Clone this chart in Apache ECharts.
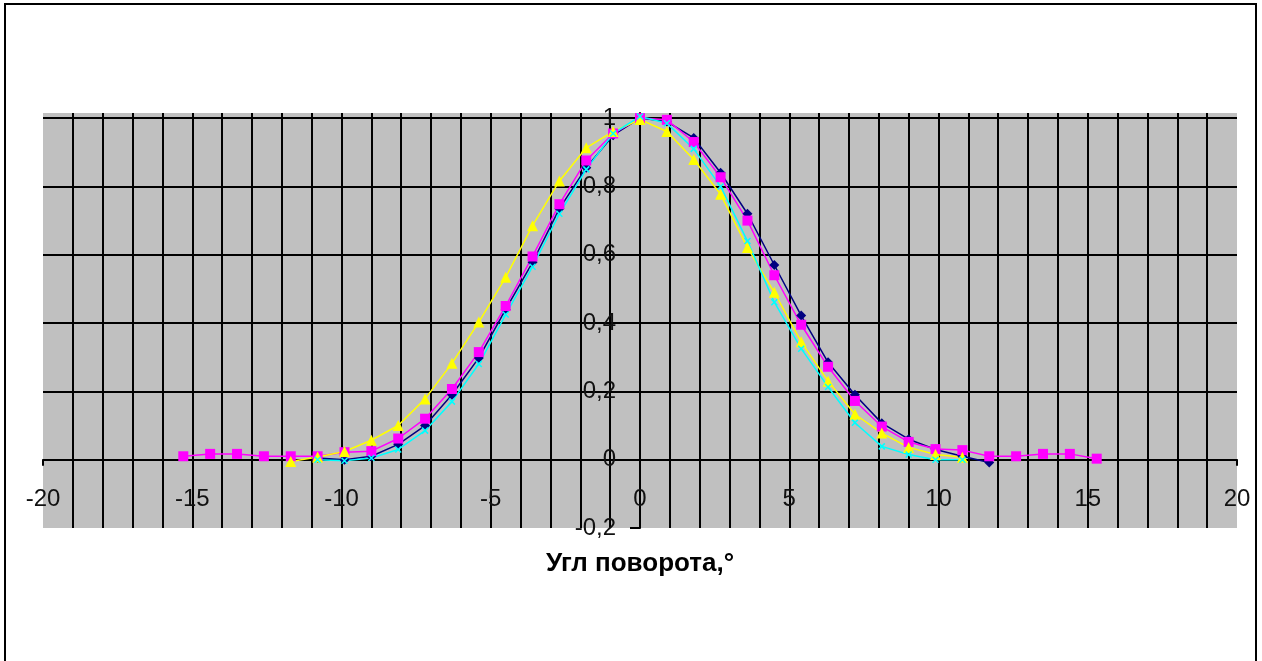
<!DOCTYPE html>
<html>
<head>
<meta charset="utf-8">
<script src="https://cdn.jsdelivr.net/npm/echarts@6/dist/echarts.min.js"></script>
<style>
  html, body { margin: 0; padding: 0; background: #fff; }
  #frame {
    position: absolute; left: 4px; top: 3px; width: 1253px; height: 700px;
    border: 2px solid #000; box-sizing: border-box;
  }
  #chart { position: absolute; left: 0; top: 0; width: 1262px; height: 661px; }
</style>
</head>
<body>
<div id="frame"></div>
<div id="chart"></div>
<script>
  // angle of rotation, degrees
  const anglesMagenta = [-15.3, -14.4, -13.5, -12.6, -11.7, -10.8, -9.9, -9.0, -8.1, -7.2, -6.3, -5.4,
    -4.5, -3.6, -2.7, -1.8, -0.9, 0, 0.9, 1.8, 2.7, 3.6, 4.5, 5.4, 6.3, 7.2, 8.1, 9.0, 9.9, 10.8,
    11.7, 12.6, 13.5, 14.4, 15.3];
  const anglesNavy = [-10.8, -9.9, -9.0, -8.1, -7.2, -6.3, -5.4, -4.5, -3.6, -2.7, -1.8, -0.9, 0,
    0.9, 1.8, 2.7, 3.6, 4.5, 5.4, 6.3, 7.2, 8.1, 9.0, 9.9, 10.8, 11.7];
  const anglesYellow = [-11.7, -10.8, -9.9, -9.0, -8.1, -7.2, -6.3, -5.4, -4.5, -3.6, -2.7, -1.8, -0.9, 0,
    0.9, 1.8, 2.7, 3.6, 4.5, 5.4, 6.3, 7.2, 8.1, 9.0, 9.9, 10.8];
  const anglesCyan = [-10.8, -9.9, -9.0, -8.1, -7.2, -6.3, -5.4, -4.5, -3.6, -2.7, -1.8, -0.9, 0,
    0.9, 1.8, 2.7, 3.6, 4.5, 5.4, 6.3, 7.2, 8.1, 9.0, 9.9, 10.8];

  const navyValues = [0.005, 0.0, 0.01, 0.045, 0.10, 0.19, 0.298, 0.44, 0.578, 0.735, 0.855, 0.95, 1.0,
    0.99, 0.942, 0.84, 0.72, 0.57, 0.422, 0.285, 0.19, 0.107, 0.06, 0.03, 0.01, -0.008];
  const magentaValues = [0.01, 0.017, 0.017, 0.01, 0.01, 0.01, 0.022, 0.025, 0.062, 0.12, 0.207, 0.315,
    0.45, 0.595, 0.748, 0.876, 0.955, 1.0, 0.995, 0.93, 0.827, 0.70, 0.54, 0.395, 0.272, 0.172, 0.097,
    0.052, 0.031, 0.028, 0.01, 0.01, 0.017, 0.017, 0.003];
  const yellowValues = [-0.005, 0.008, 0.024, 0.057, 0.10, 0.178, 0.282, 0.403, 0.534, 0.685, 0.816,
    0.913, 0.961, 0.996, 0.961, 0.879, 0.777, 0.621, 0.49, 0.345, 0.23, 0.133, 0.078, 0.036, 0.015, 0.007];
  const cyanValues = [0.0, -0.003, 0.005, 0.03, 0.085, 0.17, 0.28, 0.425, 0.565, 0.72, 0.85, 0.955, 1.005,
    0.985, 0.91, 0.80, 0.64, 0.461, 0.325, 0.213, 0.108, 0.039, 0.015, 0.0, 0.0];

  const xTitle = 'Угл поворота,°';

  const pairs = (xs, ys) => xs.map((x, i) => [x, ys[i]]);
  const crossMark = 'path://M0,0L10,10M10,0L0,10';

  // plot box in px, the axes cross at (0, 0) inside it
  const gridLeft = 43, gridRight = 25, gridTop = 113, gridBottom = 133;
  const xMin = -20, xMax = 20, yMin = -0.2, yMax = 1.015;
  const plotW = 1262 - gridLeft - gridRight, plotH = 661 - gridTop - gridBottom;
  const yAxisShift = (0 - xMin) / (xMax - xMin) * plotW;
  const xAxisShift = (0 - yMin) / (yMax - yMin) * plotH;

  const chart = echarts.init(document.getElementById('chart'));
  const font = 'Liberation Sans, Arial, sans-serif';
  const labelFont = { fontFamily: font, fontSize: 24, color: '#111' };
  const black = { color: '#000', width: 2 };

  chart.setOption({
    animation: false,
    grid: {
      left: gridLeft, right: gridRight, top: gridTop, bottom: gridBottom,
      containLabel: false, outerBoundsMode: 'none',
      show: true, backgroundColor: '#c0c0c0', borderWidth: 0,
    },
    xAxis: {
      type: 'value', min: xMin, max: xMax, interval: 5,
      position: 'bottom', offset: -xAxisShift,
      name: xTitle, nameLocation: 'middle', nameGap: 91,
      nameTextStyle: { fontFamily: font, fontSize: 26, fontWeight: 'bold', color: '#000' },
      axisLine: { onZero: false, lineStyle: black },
      axisTick: { show: true, length: 6, lineStyle: black },
      axisLabel: Object.assign({ margin: 28 }, labelFont),
      splitLine: { show: true, showMinLine: false, showMaxLine: false, lineStyle: black },
      minorTick: { show: false, splitNumber: 5 },
      minorSplitLine: { show: true, lineStyle: black },
    },
    yAxis: {
      type: 'value', min: yMin, max: yMax, interval: 0.2,
      position: 'left', offset: -yAxisShift,
      axisLine: { onZero: false, lineStyle: black },
      axisTick: { show: true, length: 10, lineStyle: black },
      axisLabel: Object.assign({
        margin: 24, showMaxLabel: false,
        formatter: v => String(Math.round(v * 10) / 10).replace('.', ','),
      }, labelFont),
      splitLine: { show: true, showMinLine: false, showMaxLine: false, lineStyle: black },
    },
    series: [
      {
        type: 'line', data: pairs(anglesNavy, navyValues), color: '#000080',
        symbol: 'diamond', symbolSize: 10, lineStyle: { width: 1.5 },
      },
      {
        type: 'line', data: pairs(anglesMagenta, magentaValues), color: '#ff00ff',
        symbol: 'rect', symbolSize: 10, lineStyle: { width: 1.5 },
      },
      {
        type: 'line', data: pairs(anglesYellow, yellowValues), color: '#ffff00',
        symbol: 'triangle', symbolSize: 11, lineStyle: { width: 1.5 },
      },
      {
        type: 'line', data: pairs(anglesCyan, cyanValues), color: '#00ffff',
        symbol: crossMark, symbolSize: 6, lineStyle: { width: 1.5 },
        itemStyle: { borderColor: '#00ffff', borderWidth: 1.5 },
      },
    ],
  });
</script>
</body>
</html>
